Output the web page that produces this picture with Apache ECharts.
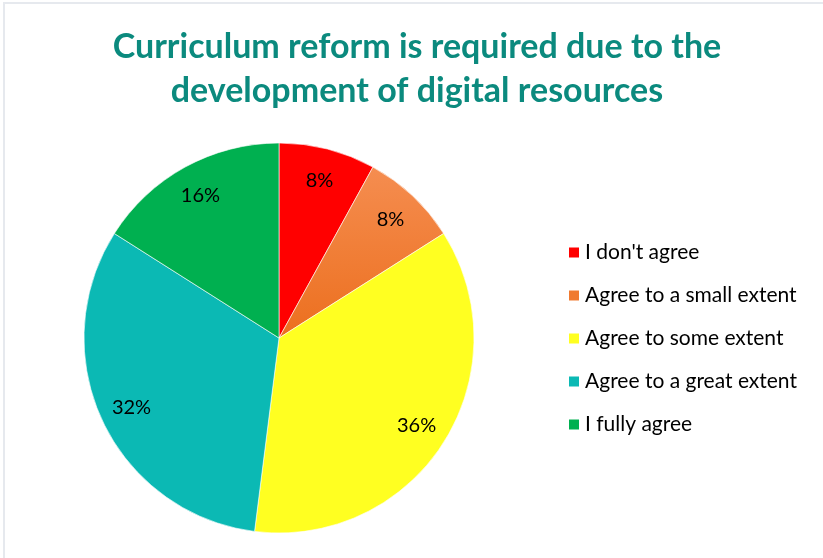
<!DOCTYPE html>
<html>
<head>
<meta charset="utf-8">
<script src="https://cdn.jsdelivr.net/npm/echarts@6/dist/echarts.min.js"></script>
<style>
  html, body { margin: 0; padding: 0; background: #fff; }
  #chart { width: 823px; height: 558px; }
</style>
</head>
<body>
<div id="chart"></div>
<script>
// Survey answers, share of respondents (%)
const categories = [
  "I don't agree",
  "Agree to a small extent",
  "Agree to some extent",
  "Agree to a great extent",
  "I fully agree"
];
const shares = [8, 8, 36, 32, 16];
const titleText = "Curriculum reform is required due to the\ndevelopment of digital resources";

const FONT = "Lato, 'Open Sans', sans-serif";
const orangeFill = new echarts.graphic.LinearGradient(0, 0, 0, 1, [
  { offset: 0, color: '#F58D50' },
  { offset: 1, color: '#EC6F1E' }
]);
const sliceColors = ['#FF0000', orangeFill, '#FFFF21', '#0BB9B4', '#00B050'];
const legendColors = ['#FF0000', '#F07A30', '#FFFF21', '#0BB9B4', '#00B050'];

const pieData = categories.map((name, i) => ({
  name: name,
  value: shares[i],
  itemStyle: { color: sliceColors[i] }
}));
const labelData = categories.map((name, i) => ({ name: name, value: shares[i] }));

const chart = echarts.init(document.getElementById('chart'), null, { renderer: 'canvas' });
chart.setOption({
  animation: false,
  backgroundColor: '#ffffff',
  title: {
    text: titleText,
    left: 412,
    top: 20,
    textAlign: 'center',
    textStyle: {
      fontFamily: FONT,
      fontSize: 34,
      fontWeight: 'bold',
      color: '#0B8A7E',
      lineHeight: 44
    }
  },
  legend: {
    orient: 'vertical',
    left: 562,
    top: 237,
    itemWidth: 12,
    itemHeight: 12,
    itemGap: 22,
    icon: 'rect',
    data: categories.map((name, i) => ({ name: name, itemStyle: { color: legendColors[i] } })),
    textStyle: { fontFamily: FONT, fontSize: 21, color: '#000' }
  },
  graphic: [
    { type: 'rect', shape: { x: 3, y: 2, width: 820, height: 2 }, style: { fill: '#E6E9EE' }, silent: true },
    { type: 'rect', shape: { x: 3, y: 2, width: 2, height: 556 }, style: { fill: '#E6E9EE' }, silent: true }
  ],
  series: [
    {
      type: 'pie',
      center: [279, 338],
      radius: [0, 195],
      startAngle: 90,
      clockwise: true,
      silent: true,
      label: { show: false },
      labelLine: { show: false },
      itemStyle: { borderColor: '#ffffff', borderWidth: 0.6 },
      data: pieData
    },
    {
      // transparent ring carrying the percentage labels
      type: 'pie',
      center: [279, 338],
      radius: [125, 195],
      startAngle: 90,
      clockwise: true,
      silent: true,
      legendHoverLink: false,
      itemStyle: { color: 'rgba(0,0,0,0)' },
      label: {
        show: true,
        position: 'inside',
        formatter: '{c}%',
        fontFamily: FONT,
        fontSize: 20,
        color: '#000'
      },
      labelLine: { show: false },
      data: labelData
    }
  ]
});
</script>
</body>
</html>
